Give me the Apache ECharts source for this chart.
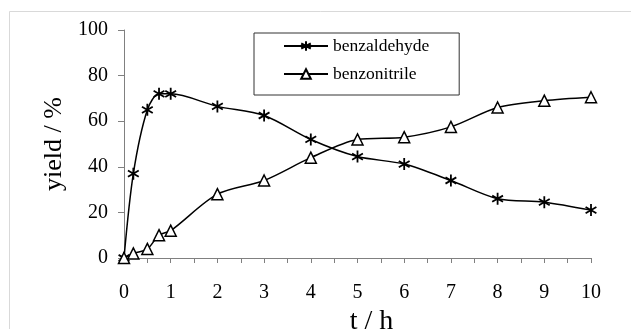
<!DOCTYPE html>
<html>
<head>
<meta charset="utf-8">
<script src="https://cdn.jsdelivr.net/npm/echarts@6/dist/echarts.min.js"></script>
<style>
  html, body { margin: 0; padding: 0; background: #fff; }
  #chart { width: 631px; height: 329px; }
</style>
</head>
<body>
<div id="chart"></div>
<script>
// reaction time (h) and yields (%)
const time = [0, 0.2, 0.5, 0.75, 1, 2, 3, 4, 5, 6, 7, 8, 9, 10]
const benzaldehyde = [0, 37, 65, 72, 72, 66.5, 62.5, 52, 44.5, 41.2, 34, 26, 24.5, 21]
const benzonitrile = [0, 2, 4, 10, 12, 28, 34, 44, 52, 53, 57.5, 66, 69, 70.5]
const yTicks = [0, 20, 40, 60, 80, 100]

const serif = '"Liberation Serif", "DejaVu Serif", serif'
const axisGrey = '#808080'

// asterisk marker: vertical bar plus two diagonals
const asterisk = 'path://M0,-5L0,5M-4.5,-2.6L4.5,2.6M-4.5,2.6L4.5,-2.6'

const pairs = ys => time.map((t, i) => [t, ys[i]])

const chart = echarts.init(document.getElementById('chart'))
chart.setOption({
  animation: false,
  backgroundColor: '#fff',
  graphic: [
    {
      // thin outer frame of the picture
      type: 'rect',
      shape: { x: 9.5, y: 11.5, width: 700, height: 400 },
      style: { fill: 'none', stroke: '#d9d9d9', lineWidth: 1 },
      silent: true
    }
  ],
  grid: { left: 124, right: 40, top: 30, bottom: 71, outerBoundsMode: 'none' },
  legend: {
    orient: 'vertical',
    left: 254,
    top: 33,
    padding: [4, 30, 12, 29],
    itemWidth: 44,
    itemHeight: 12,
    itemGap: 10,
    borderColor: '#333',
    borderWidth: 1,
    textStyle: { fontFamily: serif, fontSize: 17.5, color: '#000', lineHeight: 16 },
    data: ['benzaldehyde', 'benzonitrile']
  },
  xAxis: {
    type: 'value',
    min: 0,
    max: 10,
    interval: 0.5,
    name: 't / h',
    nameLocation: 'middle',
    nameGap: 48,
    nameTextStyle: { fontFamily: serif, fontSize: 28, color: '#000', padding: [0, 0, 0, 28] },
    axisLine: { lineStyle: { color: axisGrey, width: 1 } },
    axisTick: { show: true, inside: false, length: 5, lineStyle: { color: axisGrey } },
    axisLabel: {
      margin: 25,
      fontFamily: serif,
      fontSize: 20,
      color: '#000',
      formatter: v => (Number.isInteger(v) ? String(v) : '')
    },
    splitLine: { show: false }
  },
  yAxis: {
    type: 'value',
    min: yTicks[0],
    max: yTicks[yTicks.length - 1],
    interval: yTicks[1] - yTicks[0],
    name: 'yield / %',
    nameLocation: 'middle',
    nameGap: 49,
    nameTextStyle: { fontFamily: serif, fontSize: 26, color: '#000' },
    axisLine: { show: true, lineStyle: { color: axisGrey, width: 1 } },
    axisTick: { show: true, inside: false, length: 6, lineStyle: { color: axisGrey } },
    axisLabel: { margin: 16, fontFamily: serif, fontSize: 20, color: '#000' },
    splitLine: { show: false }
  },
  series: [
    {
      name: 'benzaldehyde',
      type: 'line',
      smooth: 0.3,
      data: pairs(benzaldehyde),
      symbol: asterisk,
      symbolSize: 12,
      symbolKeepAspect: true,
      lineStyle: { color: '#000', width: 1.5 },
      itemStyle: { color: '#000', borderColor: '#000', borderWidth: 1.8 }
    },
    {
      name: 'benzonitrile',
      type: 'line',
      smooth: 0.3,
      data: pairs(benzonitrile),
      symbol: 'triangle',
      symbolSize: 11,
      lineStyle: { color: '#000', width: 1.5 },
      itemStyle: { color: '#fff', borderColor: '#000', borderWidth: 1.5 }
    }
  ]
})
</script>
</body>
</html>
